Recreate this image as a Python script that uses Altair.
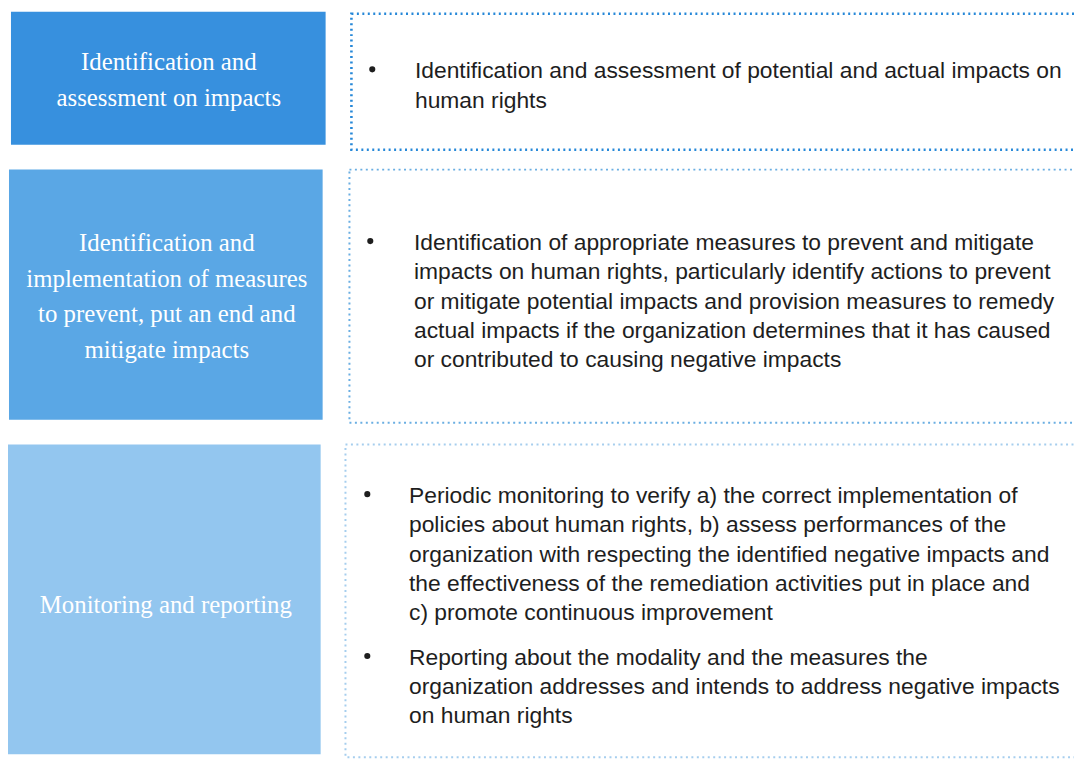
import altair as alt
import pandas as pd

# ---- content ----
left_titles = [
    "Identification and\nassessment on impacts",
    "Identification and\nimplementation of measures\nto prevent, put an end and\nmitigate impacts",
    "Monitoring and reporting",
]
left_colors = ["#3790de", "#5aa7e5", "#93c6ef"]
border_colors = ["#2688d8", "#6aaee2", "#a6ceee"]
border_widths = [2.6, 2.0, 2.0]

bullet_texts = [
    "Identification and assessment of potential and actual impacts on\nhuman rights",
    "Identification of appropriate measures to prevent and mitigate\nimpacts on human rights, particularly identify actions to prevent\nor mitigate potential impacts and provision measures to remedy\nactual impacts if the organization determines that it has caused\nor contributed to causing negative impacts",
    "Periodic monitoring to verify a) the correct implementation of\npolicies about human rights, b) assess performances of the\norganization with respecting the identified negative impacts and\nthe effectiveness of the remediation activities put in place and\nc) promote continuous improvement",
    "Reporting about the modality and the measures the\norganization addresses and intends to address negative impacts\non human rights",
]
bullet_box = [0, 1, 2, 2]

# ---- layout (pixel frame of the page) ----
left_x0 = [11, 9, 8]
left_x1 = [328, 325, 323]
left_y0 = [9, 168, 445]
left_y1 = [143, 420, 757]
left_tx = [170, 168, 167]
left_ty = [68, 250, 615]

right_x0 = [354, 352, 348]
right_x1 = [1100, 1100, 1100]
right_y0 = [11, 168, 445]
right_y1 = [148, 423, 760]

bullet_tx = [418, 417, 412, 412]
bullet_dot_x = [375, 373, 370, 370]
bullet_ty = [76, 249, 504, 667]

W, H = 1074, 755
xs = alt.Scale(domain=[8, 8 + W], nice=False, zero=False)
ys = alt.Scale(domain=[8, 8 + H], nice=False, zero=False, reverse=True)

left_df = pd.DataFrame({
    "x0": left_x0, "x1": left_x1, "y0": left_y0, "y1": left_y1,
    "color": left_colors, "title": left_titles, "tx": left_tx, "ty": left_ty,
})
right_df = pd.DataFrame({
    "x0": right_x0, "x1": right_x1, "y0": right_y0, "y1": right_y1,
    "color": border_colors, "sw": border_widths,
})
bul_df = pd.DataFrame({
    "text": bullet_texts, "box": bullet_box, "tx": bullet_tx,
    "dx": bullet_dot_x, "ty": bullet_ty,
})
bul_df["dy"] = bul_df["ty"] - 9

left_boxes = alt.Chart(left_df).mark_rect().encode(
    x=alt.X("x0:Q", scale=xs, axis=None),
    x2="x1:Q",
    y=alt.Y("y0:Q", scale=ys, axis=None),
    y2="y1:Q",
    color=alt.Color("color:N", scale=None),
)

left_text = alt.Chart(left_df).mark_text(
    font="Liberation Serif", fontSize=25, color="white", align="center",
    baseline="alphabetic", lineBreak="\n", lineHeight=36,
).encode(
    x=alt.X("tx:Q", scale=xs, axis=None),
    y=alt.Y("ty:Q", scale=ys, axis=None),
    text="title:N",
)

right_boxes = alt.Chart(right_df).mark_rect(
    fill="white", strokeDash=[2, 3.5], clip=True,
).encode(
    x=alt.X("x0:Q", scale=xs, axis=None),
    x2="x1:Q",
    y=alt.Y("y0:Q", scale=ys, axis=None),
    y2="y1:Q",
    stroke=alt.Stroke("color:N", scale=None),
    strokeWidth=alt.StrokeWidth("sw:Q", scale=None),
)

bullet_dots = alt.Chart(bul_df).mark_circle(size=38, color="#1e1e1e", opacity=1).encode(
    x=alt.X("dx:Q", scale=xs, axis=None),
    y=alt.Y("dy:Q", scale=ys, axis=None),
)

bullet_text = alt.Chart(bul_df).mark_text(
    font="Liberation Sans", fontSize=23, color="#1e1e1e", align="left",
    baseline="alphabetic", lineBreak="\n", lineHeight=29.5,
).encode(
    x=alt.X("tx:Q", scale=xs, axis=None),
    y=alt.Y("ty:Q", scale=ys, axis=None),
    text="text:N",
)

chart = alt.layer(
    left_boxes, left_text, right_boxes, bullet_dots, bullet_text
).properties(
    width=W, height=H, padding=0, autosize=alt.AutoSizeParams(type="none"),
    background="white",
).configure_view(stroke=None)

chart.save("out.html", embed_options={"renderer": "svg", "actions": False})
